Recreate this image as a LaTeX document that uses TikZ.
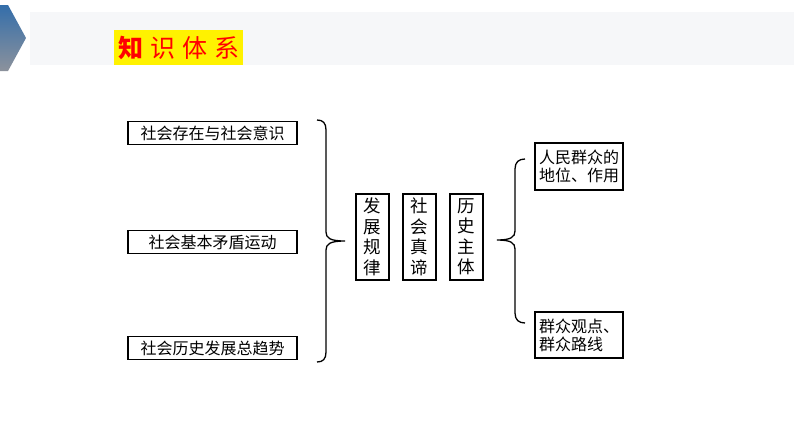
\documentclass[tikz,border=0pt]{standalone}
\usepackage{fontspec}
\setmainfont{Noto Sans CJK SC}

\definecolor{chevtop}{RGB}{52,110,170}
\definecolor{chevbot}{RGB}{140,146,156}
\definecolor{bandgray}{RGB}{246,247,249}

\tikzset{
  kbox/.style={draw, line width=1.3pt, inner sep=0pt, font=\fontsize{16}{18}\selectfont},
  vbox/.style={kbox, minimum width=33pt, minimum height=86pt, align=center, font=\fontsize{17.5}{20.5}\selectfont},
  brc/.style={line width=1.3pt}
}

\begin{document}
\begin{tikzpicture}[x=1pt, y=-1pt]

\useasboundingbox (0,0) rectangle (794,447);
\fill[white] (0,0) rectangle (794,447);

% header
\fill[bandgray] (30,12) rectangle (794,65);
\shade[top color=chevtop, bottom color=chevbot] (0,5)--(8,5)--(26,38)--(8,71)--(0,71)--cycle;
\node[fill=yellow, text=red, inner sep=0pt, minimum width=129pt, minimum height=35pt,
  font=\fontsize{25}{27}\selectfont] (title) at (178.5,47.5) {\textbf{知}\hspace{7pt}识\hspace{7pt}体\hspace{7pt}系};

% left column
\node[kbox, minimum width=169pt, minimum height=23pt] (a1) at (212.5,133) {社会存在与社会意识};
\node[kbox, minimum width=169pt, minimum height=23pt] (a2) at (212.5,242) {社会基本矛盾运动};
\node[kbox, minimum width=169pt, minimum height=23pt] (a3) at (212.5,348) {社会历史发展总趋势};

% left brace
\draw[brc] (317,120) .. controls (323,120) and (326,123) .. (326,130) -- (326,232)
  .. controls (326,238) and (330,241) .. (345,241)
  .. controls (330,241) and (326,244) .. (326,250) -- (326,352)
  .. controls (326,359) and (323,362) .. (317,362);

% middle column
\node[vbox] (m1) at (372.5,237) {发\\展\\规\\律};
\node[vbox] (m2) at (419.5,237) {社\\会\\真\\谛};
\node[vbox] (m3) at (466.5,237) {历\\史\\主\\体};

% right brace
\draw[brc] (525,159) .. controls (519,159) and (515,162) .. (515,169) -- (515,231)
  .. controls (515,237) and (511,240) .. (497,240)
  .. controls (511,240) and (515,243) .. (515,249) -- (515,313)
  .. controls (515,320) and (519,323) .. (525,323);

% right column
\node[kbox, minimum width=88pt, minimum height=47pt, align=left] (r1) at (579,166.5) {人民群众的\\地位、作用};
\node[kbox, minimum width=88pt, minimum height=46pt, align=left] (r2) at (579,335) {群众观点、\\群众路线};

\end{tikzpicture}
\end{document}
